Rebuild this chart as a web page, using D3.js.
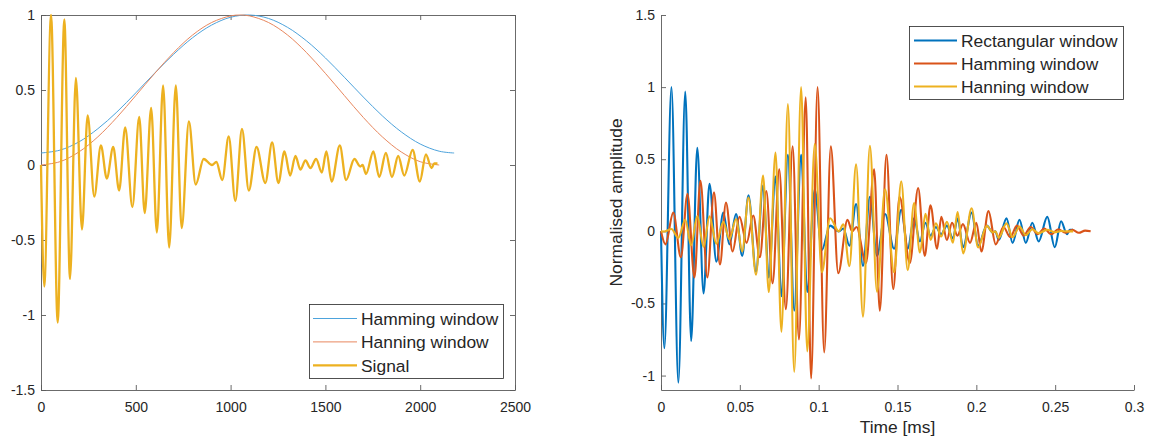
<!DOCTYPE html>
<html><head><meta charset="utf-8">
<script src="https://cdn.jsdelivr.net/npm/d3@7/dist/d3.min.js"></script>
<style>
body{margin:0;background:#fff}
text{font-family:"Liberation Sans",Arial,Helvetica,sans-serif;fill:#262626}
</style>
</head><body>
<svg id="chart" width="1153" height="444"></svg>
<script>
// ---------- Left panel data ----------
const leftXTicks = [0, 500, 1000, 1500, 2000, 2500];
const leftYTicks = [-1.5, -1, -0.5, 0, 0.5, 1];
const hammingN = [0,100,200,300,400,500,600,700,800,900,1000,1100,1200,1300,1400,1500,1600,1700,1800,1900,2000,2100,2179];
const hammingV = [0.080,0.099,0.154,0.242,0.353,0.481,0.613,0.739,0.849,0.933,0.985,1.000,0.977,0.918,0.828,0.714,0.585,0.453,0.328,0.221,0.140,0.092,0.080];
const hanningN = [0,100,200,300,400,500,600,700,800,900,1000,1050,1100,1200,1300,1400,1500,1600,1700,1800,1900,2000,2100];
const hanningV = [0,0.022,0.087,0.188,0.317,0.463,0.611,0.750,0.867,0.950,0.994,1.000,0.994,0.950,0.867,0.750,0.611,0.463,0.317,0.188,0.087,0.022,0];
// signal: sample index of each turning point and its value
const signalN = [0,17,53,88,123,153,184,216,246,281,316,347,381,412,444,482,518,547,581,611,644,676,711,742,780,816,858,902,925,956,990,1025,1060,1096,1137,1183,1219,1252,1284,1314,1342,1368,1395,1421,1451,1481,1505,1533,1576,1609,1653,1684,1696,1714,1753,1784,1819,1851,1884,1916,1960,1998,2030,2060,2074,2091];
const signalV = [0,-0.81,1.0,-1.05,0.97,-0.76,0.58,-0.43,0.33,-0.21,0.13,-0.09,0.12,-0.17,0.25,-0.28,0.32,-0.32,0.38,-0.45,0.53,-0.55,0.53,-0.42,0.29,-0.13,0.04,0.0,0.02,-0.10,0.19,-0.24,0.24,-0.17,0.12,-0.12,0.15,-0.12,0.09,-0.07,0.06,-0.03,0.03,-0.02,0.04,-0.05,0.09,-0.11,0.13,-0.10,0.04,-0.01,0.0,-0.06,0.09,-0.08,0.08,-0.08,0.06,-0.07,0.10,-0.11,0.07,-0.02,0.01,0.01];

// ---------- Right panel data ----------
const rightXTicks = [0, 0.05, 0.1, 0.15, 0.2, 0.25, 0.3];
const rightYTicks = [-1, -0.5, 0, 0.5, 1, 1.5];
const samplesPerMs = 8000; // sample rate of the signal
// Hanning-windowed signal, turning points at the same samples as the signal
const hanningSigV = [0,-0.001,0.016,-0.045,0.080,-0.097,0.106,-0.107,0.105,-0.086,0.066,-0.055,0.086,-0.140,0.235,-0.301,0.387,-0.421,0.547,-0.697,0.882,-0.975,1.0,-0.832,0.605,-0.283,0.091,0.0,0.048,-0.242,0.465,-0.592,0.593,-0.418,0.291,-0.284,0.347,-0.270,0.196,-0.147,0.122,-0.059,0.056,-0.036,0.067,-0.079,0.134,-0.153,0.160,-0.111,0.038,-0.008,0.0,-0.044,0.055,-0.041,0.033,-0.026,0.015,-0.013,0.011,-0.006,0.002,0,0,0];
// Hamming-windowed signal: turning points in ms
const hammingSigT = [0,0.0028,0.0078,0.0126,0.0168,0.0212,0.0250,0.0294,0.0336,0.0374,0.0412,0.0454,0.0498,0.0543,0.0585,0.0627,0.0668,0.0708,0.0750,0.0792,0.0835,0.0875,0.0918,0.0952,0.0993,0.1035,0.1077,0.1124,0.1183,0.1212,0.1240,0.1300,0.1352,0.1388,0.1430,0.1473,0.1513,0.1578,0.1631,0.1673,0.1709,0.1751,0.1778,0.1813,0.1846,0.1880,0.1915,0.1960,0.2000,0.2032,0.2077,0.2123,0.2172,0.2215,0.2258,0.2300,0.2345,0.2390,0.2430,0.2475,0.2520,0.2565,0.2610,0.2650,0.2690,0.2725];
const hammingSigV = [0,-0.09,0.13,-0.18,0.26,-0.32,0.35,-0.32,0.27,-0.23,0.20,-0.14,0.10,-0.08,0.11,-0.18,0.28,-0.36,0.43,-0.54,0.59,-0.75,0.93,-1.02,1.0,-0.84,0.59,-0.29,0.08,0.0,0.03,-0.22,0.43,-0.55,0.53,-0.40,0.24,-0.22,0.30,-0.17,0.18,-0.12,0.10,-0.06,0.06,-0.03,0.05,-0.08,0.06,-0.14,0.14,-0.09,0.03,-0.04,0.04,-0.03,0.03,-0.02,0.02,-0.02,0.015,-0.01,0.01,-0.01,0.005,0];

const C = {blue:"#0072BD", orange:"#D95319", yellow:"#EDB120", thinBlue:"#4DA3DC", thinOrange:"#E8875E", axis:"#5a5a5a"};

const svg = d3.select("#chart");
const FS = 14;

function styleAxis(g){
  g.select(".domain").attr("stroke", C.axis).attr("stroke-width", 0.9);
  g.selectAll(".tick line").attr("stroke", C.axis).attr("stroke-width", 0.9);
  g.selectAll(".tick text").attr("font-size", FS).attr("fill", "#262626")
    .attr("font-family", '"Liberation Sans", Arial, sans-serif');
}

// ================= LEFT PANEL =================
const lx = d3.scaleLinear().domain([0, 2500]).range([41, 515]);
const ly = d3.scaleLinear().domain([-1.5, 1]).range([390, 15]);
const fmt = d => String(d);

svg.append("g").attr("transform", "translate(0,390)")
  .call(d3.axisBottom(lx).tickValues(leftXTicks).tickFormat(fmt).tickSizeInner(-5).tickSizeOuter(0).tickPadding(12))
  .call(styleAxis);
svg.append("g").attr("transform", "translate(0,15)")
  .call(d3.axisTop(lx).tickValues(leftXTicks).tickFormat("").tickSizeInner(-5).tickSizeOuter(0))
  .call(styleAxis);
svg.append("g").attr("transform", "translate(41,0)")
  .call(d3.axisLeft(ly).tickValues(leftYTicks).tickFormat(fmt).tickSizeInner(-5).tickSizeOuter(0).tickPadding(6))
  .call(styleAxis);
svg.append("g").attr("transform", "translate(515,0)")
  .call(d3.axisRight(ly).tickValues(leftYTicks).tickFormat("").tickSizeInner(-5).tickSizeOuter(0))
  .call(styleAxis);

const smooth = d3.curveCatmullRom.alpha(0.5);
const wave = d3.curveMonotoneX;

const lineL = (xs, ys, curve) => d3.line().curve(curve).x((d,i) => lx(xs[i])).y((d,i) => ly(ys[i]))(xs);

svg.append("path").attr("d", lineL(hammingN, hammingV, smooth)).attr("fill","none").attr("stroke", C.thinBlue).attr("stroke-width", 1);
svg.append("path").attr("d", lineL(hanningN, hanningV, smooth)).attr("fill","none").attr("stroke", C.thinOrange).attr("stroke-width", 1);
svg.append("path").attr("d", lineL(signalN, signalV, wave)).attr("fill","none").attr("stroke", C.yellow).attr("stroke-width", 2.3).attr("stroke-linejoin","round");

// left legend
const legL = svg.append("g");
legL.append("rect").attr("x", 309.5).attr("y", 304.5).attr("width", 194).attr("height", 74)
  .attr("fill", "#fff").attr("stroke", "#262626").attr("stroke-width", 0.8);
const leftLegend = [
  {label:"Hamming window", color:C.thinBlue, w:1},
  {label:"Hanning window", color:C.thinOrange, w:1},
  {label:"Signal", color:C.yellow, w:2.3}
];
leftLegend.forEach((d, i) => {
  const y = 318.5 + i * 23.4;
  legL.append("line").attr("x1", 313).attr("x2", 357).attr("y1", y).attr("y2", y).attr("stroke", d.color).attr("stroke-width", d.w);
  legL.append("text").attr("x", 361).attr("y", y + 6.2).attr("font-size", 17.4).text(d.label);
});

// ================= RIGHT PANEL =================
const rx = d3.scaleLinear().domain([0, 0.3]).range([661, 1134]);
const ry = d3.scaleLinear().domain([-1.1, 1.5]).range([390, 15]);

svg.append("g").attr("transform", "translate(0,390)")
  .call(d3.axisBottom(rx).tickValues(rightXTicks).tickFormat(fmt).tickSizeInner(-5).tickSizeOuter(0).tickPadding(12))
  .call(styleAxis);
svg.append("g").attr("transform", "translate(661,0)")
  .call(d3.axisLeft(ry).tickValues(rightYTicks).tickFormat(fmt).tickSizeInner(-5).tickSizeOuter(0).tickPadding(6))
  .call(styleAxis);

const lineR = (xs, ys) => d3.line().curve(wave).x((d,i) => rx(xs[i])).y((d,i) => ry(ys[i]))(xs);
const sigT = signalN.map(n => n / samplesPerMs);

svg.append("path").attr("d", lineR(sigT, signalV)).attr("fill","none").attr("stroke", C.blue).attr("stroke-width", 2.1);
svg.append("path").attr("d", lineR(hammingSigT, hammingSigV)).attr("fill","none").attr("stroke", C.orange).attr("stroke-width", 2.1);
svg.append("path").attr("d", lineR(sigT, hanningSigV)).attr("fill","none").attr("stroke", C.yellow).attr("stroke-width", 2.1);

svg.append("text").attr("transform", "translate(622,202.5) rotate(-90)").attr("text-anchor", "middle")
  .attr("font-size", 17.4).text("Normalised amplitude");
svg.append("text").attr("x", 897.5).attr("y", 433).attr("text-anchor", "middle")
  .attr("font-size", 17.4).text("Time [ms]");

const legR = svg.append("g");
legR.append("rect").attr("x", 909.5).attr("y", 26.5).attr("width", 214).attr("height", 73)
  .attr("fill", "#fff").attr("stroke", "#262626").attr("stroke-width", 0.8);
const rightLegend = [
  {label:"Rectangular window", color:C.blue},
  {label:"Hamming window", color:C.orange},
  {label:"Hanning window", color:C.yellow}
];
rightLegend.forEach((d, i) => {
  const y = 40.5 + i * 23;
  legR.append("line").attr("x1", 914).attr("x2", 957).attr("y1", y).attr("y2", y).attr("stroke", d.color).attr("stroke-width", 2.1);
  legR.append("text").attr("x", 961).attr("y", y + 6.2).attr("font-size", 17.4).text(d.label);
});
</script>
</body></html>
